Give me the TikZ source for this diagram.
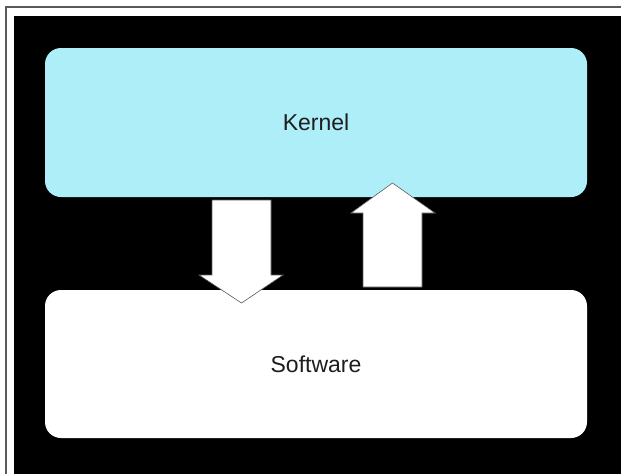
\documentclass[tikz,border=0pt]{standalone}
\usepackage{fontspec}
\setmainfont{Liberation Sans}
\definecolor{kernelcyan}{HTML}{AEEEF9}
\definecolor{framegray}{HTML}{5A5A5A}
\definecolor{textgray}{HTML}{1E1E1E}
\begin{document}
\begin{tikzpicture}[x=1pt,y=-1pt,
  layerbox/.style={draw=none, rounded corners=16pt, minimum width=542pt,
    text=textgray, font=\fontsize{23}{27}\selectfont},
  blockarrow/.style={fill=white, draw=framegray, line width=0.6pt, line join=miter}]
  % page, outer rule and black panel
  \useasboundingbox (0,0) rectangle (621,474);
  \fill[white] (0,0) rectangle (621,474);
  \draw[framegray, line width=1.4pt] (6,474) -- (6,7) -- (621,7);
  \fill[black] (14,16) rectangle (621,474);
  % layers
  \node[layerbox, fill=kernelcyan, minimum height=149pt] (kernel) at (316,122.5) {Kernel};
  \node[layerbox, fill=white, minimum height=148pt] (software) at (316,364) {Software};
  % downward block arrow
  \filldraw[blockarrow] (212,200) -- (271,200) -- (271,275) -- (283,275)
    -- (241.5,303) -- (199,275) -- (212,275) -- cycle;
  % upward block arrow
  \filldraw[blockarrow] (363,287) -- (422,287) -- (422,213) -- (435,213)
    -- (392.5,183) -- (351,213) -- (363,213) -- cycle;
\end{tikzpicture}
\end{document}
